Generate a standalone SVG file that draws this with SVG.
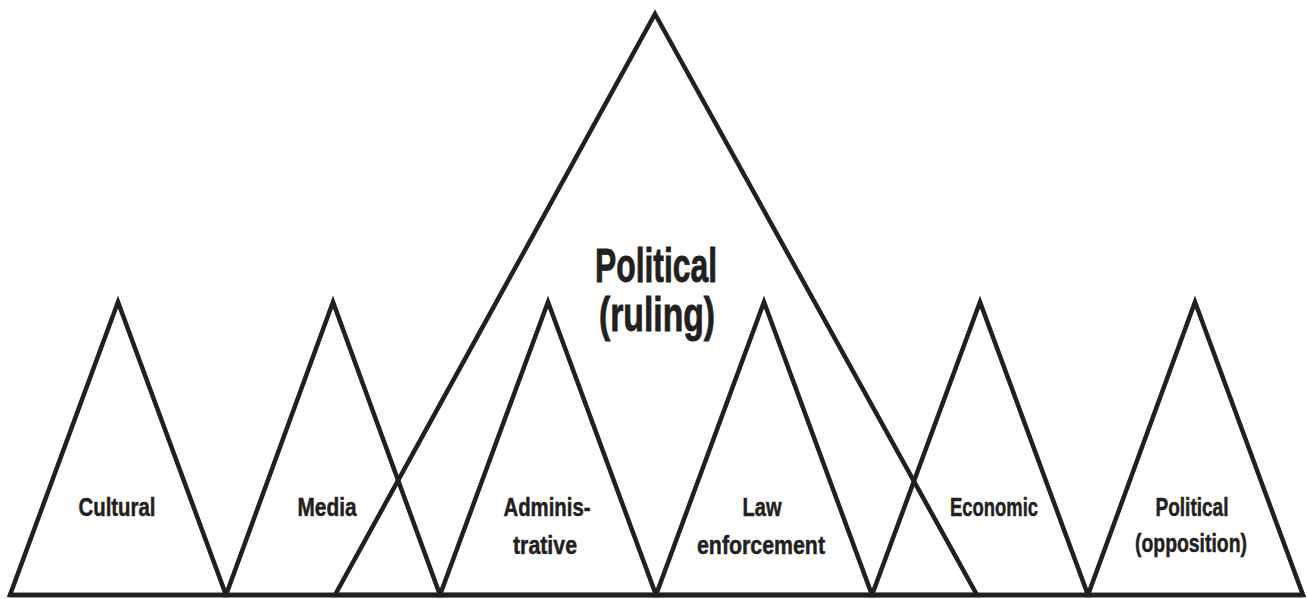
<svg xmlns="http://www.w3.org/2000/svg" width="1307" height="599" viewBox="0 0 1307 599">
<style>
.tri{fill:none;stroke:#231f20;stroke-width:4.5;stroke-linejoin:miter;stroke-miterlimit:20}
.lbl{font-family:"Liberation Sans",Arial,sans-serif;font-weight:bold;font-size:25px;fill:#231f20;stroke:#231f20;stroke-width:0.5;text-anchor:middle}
.big{font-size:48px;stroke-width:0.9}
</style>
<rect width="1307" height="599" fill="#ffffff"/>
<g id="political-ruling">
<polygon class="tri" points="655,14 977,595 335,595"/>
<text class="lbl big" x="656" y="282" textLength="122" lengthAdjust="spacingAndGlyphs">Political</text>
<text class="lbl big" x="657" y="331" textLength="116" lengthAdjust="spacingAndGlyphs">(ruling)</text>
</g>
<g id="cultural">
<polygon class="tri" points="118,302 226,595 10,595"/>
<text class="lbl" x="117" y="516" textLength="77" lengthAdjust="spacingAndGlyphs">Cultural</text>
</g>
<g id="media">
<polygon class="tri" points="333,302 440,595 226,595"/>
<text class="lbl" x="327" y="516" textLength="59" lengthAdjust="spacingAndGlyphs">Media</text>
</g>
<g id="administrative">
<polygon class="tri" points="548,302 656,595 440,595"/>
<text class="lbl" x="547" y="516" textLength="87" lengthAdjust="spacingAndGlyphs">Adminis-</text>
<text class="lbl" x="545" y="554" textLength="64" lengthAdjust="spacingAndGlyphs">trative</text>
</g>
<g id="law-enforcement">
<polygon class="tri" points="764,302 872,595 656,595"/>
<text class="lbl" x="762" y="516" textLength="39" lengthAdjust="spacingAndGlyphs">Law</text>
<text class="lbl" x="761" y="554" textLength="128" lengthAdjust="spacingAndGlyphs">enforcement</text>
</g>
<g id="economic">
<polygon class="tri" points="980,302 1088,595 872,595"/>
<text class="lbl" x="994" y="516" textLength="88" lengthAdjust="spacingAndGlyphs">Economic</text>
</g>
<g id="political-opposition">
<polygon class="tri" points="1195,302 1303,595 1088,595"/>
<text class="lbl" x="1192" y="516" textLength="73" lengthAdjust="spacingAndGlyphs">Political</text>
<text class="lbl" x="1191" y="552" textLength="112" lengthAdjust="spacingAndGlyphs">(opposition)</text>
</g>
<g id="connectors">
<line class="tri" x1="10" y1="595" x2="1303" y2="595"/>
</g>
</svg>
